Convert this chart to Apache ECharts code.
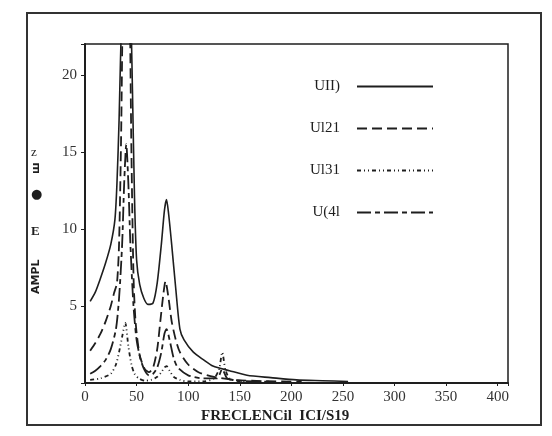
<!DOCTYPE html>
<html>
<head>
<meta charset="utf-8">
<script src="https://cdn.jsdelivr.net/npm/echarts@6/dist/echarts.min.js"></script>
<style>
  html, body { margin: 0; padding: 0; background: #fff; }
  #main { width: 552px; height: 436px; }
</style>
</head>
<body>
<div id="main"></div>
<script>
const chart = echarts.init(document.querySelector('#main'));

// legend labels as printed
const names = ['UII)', 'Ul21', 'Ul31', 'U(4l'];
const xTicks = [0, 50, 100, 150, 200, 250, 300, 350, 400];
const yTicks = [5, 10, 15, 20];

// U(1) solid
const u1Freq = [5, 10, 15, 20, 25, 29, 31, 33, 36, 40, 44, 46, 48, 50, 53, 57, 61, 66, 70, 74, 77, 79, 81, 84, 88, 92, 96, 105, 115, 124, 140, 157, 180, 205, 230, 255];
const u1Ampl = [5.3, 5.9, 6.8, 7.8, 9.0, 10.6, 13, 17, 25, 30, 25, 19, 12, 8, 6.4, 5.5, 5.1, 5.2, 6.5, 9, 11.2, 11.9, 11, 9, 6.1, 3.5, 2.8, 2.0, 1.5, 1.1, 0.8, 0.5, 0.35, 0.2, 0.15, 0.1];

// U(2) dashed
const u2Freq = [5, 10, 15, 20, 25, 28, 31, 33, 35, 37, 40, 43, 45, 47, 49, 53, 58, 62, 66, 70, 73, 76, 78, 81, 84, 88, 92, 100, 110, 125, 145, 175, 210];
const u2Ampl = [2.1, 2.6, 3.2, 4.0, 5.0, 5.8, 6.5, 9, 16, 26, 32, 26, 15, 7, 4, 1.8, 0.9, 0.7, 1.0, 2.2, 4.0, 5.8, 6.6, 5.5, 4.0, 2.8, 2.0, 1.2, 0.7, 0.4, 0.2, 0.12, 0.08];

// U(3) dash-dot-dot
const u3Freq = [5, 15, 25, 30, 33, 36, 39, 42, 45, 48, 52, 58, 64, 70, 74, 77, 79, 82, 86, 92, 100, 115, 125, 130, 133, 136, 140, 150, 170];
const u3Ampl = [0.2, 0.3, 0.6, 1.2, 2.0, 3.0, 3.9, 2.4, 1.2, 0.6, 0.3, 0.15, 0.2, 0.4, 0.7, 1.0, 1.1, 0.8, 0.4, 0.2, 0.1, 0.1, 0.3, 0.9, 2.0, 0.9, 0.3, 0.1, 0.05];

// U(4) dash-dot
const u4Freq = [5, 10, 15, 20, 25, 30, 33, 36, 38, 40, 42, 44, 47, 50, 54, 58, 62, 66, 70, 74, 77, 79, 82, 86, 90, 100, 115, 128, 133, 138, 150, 180];
const u4Ampl = [0.6, 0.8, 1.1, 1.5, 2.2, 3.5, 5.5, 9, 13, 15.5, 13, 9, 5, 2.8, 1.5, 0.8, 0.5, 0.6, 1.0, 2.0, 3.2, 3.5, 2.8, 1.6, 1.0, 0.5, 0.3, 0.3, 0.9, 0.3, 0.15, 0.08];

const pair = (fs, as) => fs.map((f, i) => [f, as[i]]);
const ink = '#1e1e1e';
const serif = 'Liberation Serif';

const dashes = ['solid', [10, 5], [4, 3, 1, 3, 1, 3], [14, 4, 5, 4]];
const dataSets = [pair(u1Freq, u1Ampl), pair(u2Freq, u2Ampl), pair(u3Freq, u3Ampl), pair(u4Freq, u4Ampl)];

let option = {
    backgroundColor: '#fff',
    animation: false,
    grid: {
        left: 85, top: 44, right: 44, bottom: 53,
        show: true, borderColor: ink, borderWidth: 1.5
    },
    legend: {
        orient: 'vertical',
        left: 305, top: 74,
        align: 'right',
        itemWidth: 76, itemHeight: 14, itemGap: 27,
        itemStyle: { opacity: 0 },
        textStyle: { fontFamily: serif, fontSize: 15, color: ink, padding: [0, 12, 0, 0] },
        data: names
    },
    xAxis: {
        type: 'value',
        min: 0, max: 410, interval: 50,
        axisLine: { lineStyle: { color: ink, width: 2 } },
        axisTick: { show: true, length: 3, lineStyle: { color: ink } },
        splitLine: { show: false },
        axisLabel: {
            fontFamily: serif, fontSize: 15, color: '#333', margin: 7,
            formatter: (v) => xTicks.includes(v) ? String(v) : ''
        }
    },
    yAxis: {
        type: 'value',
        min: 0, max: 22, interval: 5,
        axisLine: { show: true, lineStyle: { color: ink, width: 2 } },
        axisTick: { show: true, length: 4, lineStyle: { color: ink } },
        splitLine: { show: false },
        axisLabel: {
            fontFamily: serif, fontSize: 15, color: '#333', margin: 8,
            formatter: (v) => yTicks.includes(v) ? String(v) : ''
        }
    },
    graphic: [
        { type: 'rect', shape: { x: 27, y: 13, width: 514, height: 412 },
          style: { fill: null, stroke: '#333', lineWidth: 2 } },
        { type: 'text', x: 201, y: 409,
          style: { text: 'FRECLENCil  ICI/S19', font: 'bold 15px "Liberation Serif"', fill: ink } },
        { type: 'text', x: 31, y: 294, rotation: Math.PI / 2,
          style: { text: 'AMPL', font: 'bold 11px "DejaVu Sans"', fill: ink } },
        { type: 'text', x: 31, y: 146, style: { text: 'z', font: '13px "Liberation Serif"', fill: ink } },
        { type: 'text', x: 31, y: 174, rotation: Math.PI / 2,
          style: { text: 'ш', font: 'bold 11px "DejaVu Sans"', fill: ink } },
        { type: 'text', x: 31, y: 188, style: { text: '●', font: '13px "DejaVu Sans"', fill: ink } },
        { type: 'text', x: 31, y: 225, style: { text: 'E', font: 'bold 13px "Liberation Serif"', fill: ink } }
    ],
    series: names.map((n, i) => ({
        name: n,
        type: 'line',
        data: dataSets[i],
        symbol: 'none',
        smooth: 0.25,
        clip: true,
        color: ink,
        lineStyle: { color: ink, width: i === 0 ? 1.6 : 1.8, type: dashes[i] }
    }))
};

chart.setOption(option);
</script>
</body>
</html>
